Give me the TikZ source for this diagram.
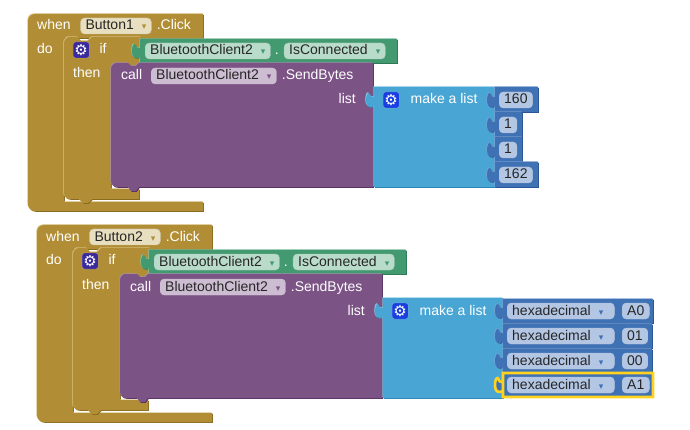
\documentclass[tikz,border=0pt]{standalone}
\usepackage{fontspec}
\usepackage{xcolor}
\usepackage{tikz}
\usetikzlibrary{positioning}
\setmainfont{Liberation Sans}
\newfontfamily\symfont{DejaVu Sans}
\definecolor{cgold}{HTML}{B18E35}
\definecolor{cgoldhi}{HTML}{D9C384}
\definecolor{cgoldlo}{HTML}{8A6C20}
\definecolor{cgoldpill}{HTML}{E8DFC0}
\definecolor{cpurple}{HTML}{7C5385}
\definecolor{cpurplehi}{HTML}{A78DAE}
\definecolor{cpurplelo}{HTML}{5A3164}
\definecolor{cpurplepill}{HTML}{CDBDD2}
\definecolor{cgreen}{HTML}{439970}
\definecolor{cgreenhi}{HTML}{86C4A5}
\definecolor{cgreenlo}{HTML}{2C7A55}
\definecolor{cgreenpill}{HTML}{B9DCCA}
\definecolor{cblue}{HTML}{49A6D4}
\definecolor{cbluehi}{HTML}{8CCBE8}
\definecolor{cbluelo}{HTML}{2B86B3}
\definecolor{cnum}{HTML}{3F71B5}
\definecolor{cnumhi}{HTML}{7D9FD0}
\definecolor{cnumlo}{HTML}{2A5594}
\definecolor{cnumpill}{HTML}{B3C6E3}
\definecolor{cctrl}{HTML}{3B2A9C}
\definecolor{clist}{HTML}{1A3FE0}
\definecolor{chigh}{HTML}{FFD21F}
\newcommand{\dn}[1]{\hspace{8pt}{\symfont\fontsize{9}{9}\selectfont\textcolor{#1}{▾}}\hspace{6pt}}
% jigsaw tab on the left edge of a block, x then centre y
\newcommand{\lug}[2]{-- (#1,#2+6) .. controls (#1-4,#2+8) and (#1-8,#2+7) .. (#1-8,#2+1)
  .. controls (#1-8,#2-4) and (#1-7,#2-7) .. (#1-5.5,#2-7)
  .. controls (#1-4,#2-7) and (#1-5,#2-3) .. (#1-1,#2-3) -- (#1,#2-3)}
\tikzset{
  bevel/.style n args={3}{fill=#1,
    preaction={fill=#3, transform canvas={shift={(0.8pt,-0.8pt)}}},
    preaction={fill=#2, transform canvas={shift={(-0.7pt,0.7pt)}}}},
  goldblk/.style={bevel={cgold}{cgoldhi}{cgoldlo}},
  purpleblk/.style={bevel={cpurple}{cpurplehi}{cpurplelo}},
  greenblk/.style={bevel={cgreen}{cgreenhi}{cgreenlo}},
  blueblk/.style={bevel={cblue}{cbluehi}{cbluelo}},
  numblk/.style={bevel={cnum}{cnumhi}{cnumlo}},
  lbl/.style={text=white, inner sep=0pt, font=\fontsize{14}{14}\selectfont,
              text height=11pt, text depth=3pt},
  pill/.style={rounded corners=4pt, inner xsep=5pt, inner ysep=1pt,
               font=\fontsize{14}{14}\selectfont, text=black!85,
               text height=11pt, text depth=3pt},
  goldpill/.style={pill, fill=cgoldpill, draw=cgoldlo!40},
  purplepill/.style={pill, fill=cpurplepill, draw=cpurplelo!30},
  greenpill/.style={pill, fill=cgreenpill, draw=cgreenlo!40},
  numpill/.style={pill, fill=cnumpill, draw=cnumlo!35},
  gear/.style={rounded corners=2.5pt, text=white, inner sep=0pt, text width=16pt, align=center,
               minimum size=16pt, draw=white, draw opacity=.35,
               font=\symfont\fontsize{15}{15}\selectfont},
  hilite/.style={draw=chigh, line width=2.6pt, fill=cnum},
}

\begin{document}
\begin{tikzpicture}[x=1pt, y=-1pt]
  \useasboundingbox (0,0) rectangle (690,430);
  % ---------- Button1 ----------
  \begin{scope}
    \path[goldblk, rounded corners=7pt] (28,100) -- (28,14) -- (100,14) [sharp corners] -- (203,14) -- (203,38)
      -- (64,38) -- (64,202) -- (203,202) -- (203,211) -- (100,211) [rounded corners=7pt] -- (28,211) -- cycle;
    \path[goldblk, rounded corners=6pt] (64,100) -- (64,37) -- (72,37) [sharp corners] -- (77,37) -- (81,41) -- (88,41) -- (92,37)
      -- (141,37) -- (141,70) -- (111,70) -- (111,189) -- (139,189) -- (139,199) -- (92,199) -- (88,203) -- (83,203)
      -- (79,199) [rounded corners=6pt] -- (64,199) -- cycle;
    \path[greenblk] (140,63) -- (140,39) -- (397,39) -- (397,63) -- (140,63) \lug{140}{51} -- cycle;
    \path[purpleblk, rounded corners=6pt] (111,100) -- (111,63) -- (120,63) [sharp corners] -- (128,63) -- (131,66) -- (136,66)
      -- (139,63) -- (373,63) -- (373,187) -- (139,187) -- (136,191) -- (131,191) -- (128,187) [rounded corners=6pt] -- (111,187) -- cycle;
    \path[blueblk] (374,187) -- (374,87) -- (495,87) -- (495,187) -- (374,187) \lug{374}{100} -- cycle;
    \path[numblk] (495,112) -- (495,87) -- (538,87) -- (538,112) -- (495,112) \lug{495}{100} -- cycle;
    \path[numblk] (495,137) -- (495,112) -- (522,112) -- (522,137) -- (495,137) \lug{495}{125} -- cycle;
    \path[numblk] (495,162) -- (495,137) -- (522,137) -- (522,162) -- (495,162) \lug{495}{150} -- cycle;
    \path[numblk] (495,187) -- (495,162) -- (538,162) -- (538,187) -- (495,187) \lug{495}{175} -- cycle;
    \node[lbl, anchor=west] (wa) at (37,26) {when};
    \node[goldpill, right=9.5pt of wa] (ba) {Button1\dn{cgold}};
    \node[lbl, right=5pt of ba] (ca) {.Click};
    \node[lbl, anchor=west] (da) at (37,50) {do};
    \node[gear, fill=cctrl, anchor=west] (ga) at (73,50) {⚙};
    \node[lbl, right=10pt of ga] (ia) {if};
    \node[lbl, anchor=west] (ta) at (73,74) {then};
    \node[greenpill, anchor=west] (ba1) at (145,51) {BluetoothClient2\dn{cgreen}};
    \node[lbl, right=4pt of ba1] (pa) {.};
    \node[greenpill, right=5pt of pa] (ic) {IsConnected\dn{cgreen}};
    \node[lbl, anchor=west] (la) at (121,76) {call};
    \node[purplepill, anchor=west] (ba2) at (151,76) {BluetoothClient2\dn{cpurple}};
    \node[lbl, right=5pt of ba2] (sa) {.SendBytes};
    \node[lbl, anchor=east] (ra) at (356,100) {list};
    \node[gear, fill=clist, anchor=west] (gb) at (383,100) {⚙};
    \node[lbl, right=11pt of gb] (ma) {make a list};
    \node[numpill, anchor=west] (n1) at (499,100) {160};
    \node[numpill, anchor=west] (n2) at (499,125) {1};
    \node[numpill, anchor=west] (n3) at (499,150) {1};
    \node[numpill, anchor=west] (n4) at (499,175) {162};
  \end{scope}
  % ---------- Button2 ----------
  \begin{scope}[shift={(9,211)}]
    \path[goldblk, rounded corners=7pt] (28,100) -- (28,14) -- (100,14) [sharp corners] -- (203,14) -- (203,38)
      -- (64,38) -- (64,202) -- (203,202) -- (203,211) -- (100,211) [rounded corners=7pt] -- (28,211) -- cycle;
    \path[goldblk, rounded corners=6pt] (64,100) -- (64,37) -- (72,37) [sharp corners] -- (77,37) -- (81,41) -- (88,41) -- (92,37)
      -- (141,37) -- (141,70) -- (111,70) -- (111,189) -- (139,189) -- (139,199) -- (92,199) -- (88,203) -- (83,203)
      -- (79,199) [rounded corners=6pt] -- (64,199) -- cycle;
    \path[greenblk] (140,63) -- (140,39) -- (397,39) -- (397,63) -- (140,63) \lug{140}{51} -- cycle;
    \path[purpleblk, rounded corners=6pt] (111,100) -- (111,63) -- (120,63) [sharp corners] -- (128,63) -- (131,66) -- (136,66)
      -- (139,63) -- (373,63) -- (373,187) -- (139,187) -- (136,191) -- (131,191) -- (128,187) [rounded corners=6pt] -- (111,187) -- cycle;
    \path[blueblk] (374,187) -- (374,87) -- (494,87) -- (494,187) -- (374,187) \lug{374}{100} -- cycle;
    \path[numblk] (494,112) -- (494,88) -- (644,88) -- (644,112) -- (494,112) \lug{494}{100} -- cycle;
    \path[numblk] (494,137) -- (494,113) -- (643,113) -- (643,137) -- (494,137) \lug{494}{125} -- cycle;
    \path[numblk] (494,161) -- (494,138) -- (643,138) -- (643,161) -- (494,161) \lug{494}{150} -- cycle;
    \path[hilite] (494,186) -- (494,162) -- (644,162) -- (644,186) -- (494,186) \lug{494}{174} -- cycle;
    \node[lbl, anchor=west] (wb) at (37,26) {when};
    \node[goldpill, right=9.5pt of wb] (bb) {Button2\dn{cgold}};
    \node[lbl, right=5pt of bb] (cb) {.Click};
    \node[lbl, anchor=west] (db) at (37,50) {do};
    \node[gear, fill=cctrl, anchor=west] (gc) at (73,50) {⚙};
    \node[lbl, right=10pt of gc] (ib) {if};
    \node[lbl, anchor=west] (tb) at (73,74) {then};
    \node[greenpill, anchor=west] (bb1) at (145,51) {BluetoothClient2\dn{cgreen}};
    \node[lbl, right=4pt of bb1] (pb) {.};
    \node[greenpill, right=5pt of pb] (id) {IsConnected\dn{cgreen}};
    \node[lbl, anchor=west] (lb) at (121,76) {call};
    \node[purplepill, anchor=west] (bb2) at (151,76) {BluetoothClient2\dn{cpurple}};
    \node[lbl, right=5pt of bb2] (sb) {.SendBytes};
    \node[lbl, anchor=east] (rb) at (356,100) {list};
    \node[gear, fill=clist, anchor=west] (gd) at (383,100) {⚙};
    \node[lbl, right=11pt of gd] (mb) {make a list};
    \node[numpill, anchor=west] (h1) at (498,100) {hexadecimal\dn{cnum}\hspace{2pt}};
    \node[numpill, anchor=west] (v1) at (613,100) {A0};
    \node[numpill, anchor=west] (h2) at (498,125) {hexadecimal\dn{cnum}\hspace{2pt}};
    \node[numpill, anchor=west] (v2) at (613,125) {01};
    \node[numpill, anchor=west] (h3) at (498,150) {hexadecimal\dn{cnum}\hspace{2pt}};
    \node[numpill, anchor=west] (v3) at (613,150) {00};
    \node[numpill, anchor=west] (h4) at (498,174) {hexadecimal\dn{cnum}\hspace{2pt}};
    \node[numpill, anchor=west] (v4) at (613,174) {A1};
  \end{scope}
\end{tikzpicture}
\end{document}
